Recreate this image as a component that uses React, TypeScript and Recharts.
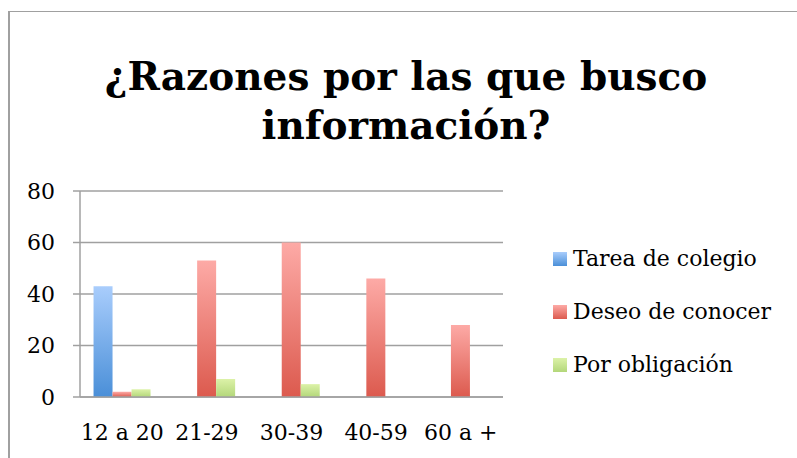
import React from 'react';
import { BarChart, Bar, XAxis, YAxis, CartesianGrid } from 'recharts';

const categories = ['12 a 20', '21-29', '30-39', '40-59', '60 a +'];
const tareaColegio = [43, 0, 0, 0, 0];
const deseoConocer = [2, 53, 60, 46, 28];
const porObligacion = [3, 7, 5, 0, 0];
const yTicks = [0, 20, 40, 60, 80];

const series = [
  { key: 'tarea', name: 'Tarea de colegio', top: '#a9cdfc', bottom: '#4a8fd8' },
  { key: 'deseo', name: 'Deseo de conocer', top: '#fdaaa6', bottom: '#dc5a4e' },
  { key: 'obligacion', name: 'Por obligación', top: '#dcf2a8', bottom: '#b3d77a' },
];

const data = categories.map((c, i) => ({
  name: c,
  tarea: tareaColegio[i],
  deseo: deseoConocer[i],
  obligacion: porObligacion[i],
}));

const FONT = '"DejaVu Serif", serif';

function LegendBox() {
  return (
    <div style={{ position: 'absolute', left: 553, top: 232, fontFamily: FONT, fontSize: 22, color: '#000' }}>
      {series.map((s) => (
        <div key={s.key} style={{ display: 'flex', alignItems: 'center', height: 53, whiteSpace: 'nowrap' }}>
          <div
            style={{
              width: 14,
              height: 14,
              marginRight: 6,
              background: `linear-gradient(${s.top}, ${s.bottom})`,
            }}
          />
          <span>{s.name}</span>
        </div>
      ))}
    </div>
  );
}

export default function App() {
  return (
    <div style={{ position: 'absolute', left: 0, top: 0, width: 797, height: 458, background: '#fff', overflow: 'hidden' }}>
      <div
        style={{
          position: 'absolute',
          left: 8,
          top: 11,
          width: 820,
          height: 480,
          borderLeft: '2px solid #a0a0a0',
          borderTop: '1.5px solid #a0a0a0',
        }}
      />
      <svg width={797} height={160} style={{ position: 'absolute', left: 0, top: 0 }}>
        <text x={406} y={90} textAnchor="middle" fontFamily={FONT} fontWeight="bold" fontSize={39} fill="#000">
          ¿Razones por las que busco
        </text>
        <text x={406} y={139} textAnchor="middle" fontFamily={FONT} fontWeight="bold" fontSize={39} fill="#000">
          información?
        </text>
      </svg>
      <div style={{ position: 'absolute', left: 0, top: 0 }}>
        <BarChart
          width={797}
          height={458}
          data={data}
          margin={{ top: 191, right: 294, left: 20, bottom: 31 }}
          barCategoryGap="16%"
          barGap={0}
        >
          <defs>
            {series.map((s) => (
              <linearGradient key={s.key} id={`grad-${s.key}`} x1="0" y1="0" x2="0" y2="1">
                <stop offset="0%" stopColor={s.top} />
                <stop offset="100%" stopColor={s.bottom} />
              </linearGradient>
            ))}
          </defs>
          <CartesianGrid vertical={false} stroke="#a0a0a0" strokeWidth={1.5} />
          <XAxis
            dataKey="name"
            height={30}
            tickLine={false}
            tickSize={0}
            tickMargin={27}
            axisLine={{ stroke: '#a0a0a0', strokeWidth: 1.5 }}
            tick={{ fill: '#000', fontFamily: FONT, fontSize: 22 }}
          />
          <YAxis
            width={60}
            domain={[0, 80]}
            ticks={yTicks}
            tickSize={7}
            tickMargin={18}
            tickLine={{ stroke: '#a0a0a0', strokeWidth: 1.5 }}
            axisLine={{ stroke: '#a0a0a0', strokeWidth: 1.5 }}
            tick={{ fill: '#000', fontFamily: FONT, fontSize: 22 }}
          />
          {series.map((s) => (
            <Bar key={s.key} dataKey={s.key} name={s.name} fill={`url(#grad-${s.key})`} isAnimationActive={false} />
          ))}
        </BarChart>
      </div>
      <LegendBox />
    </div>
  );
}
